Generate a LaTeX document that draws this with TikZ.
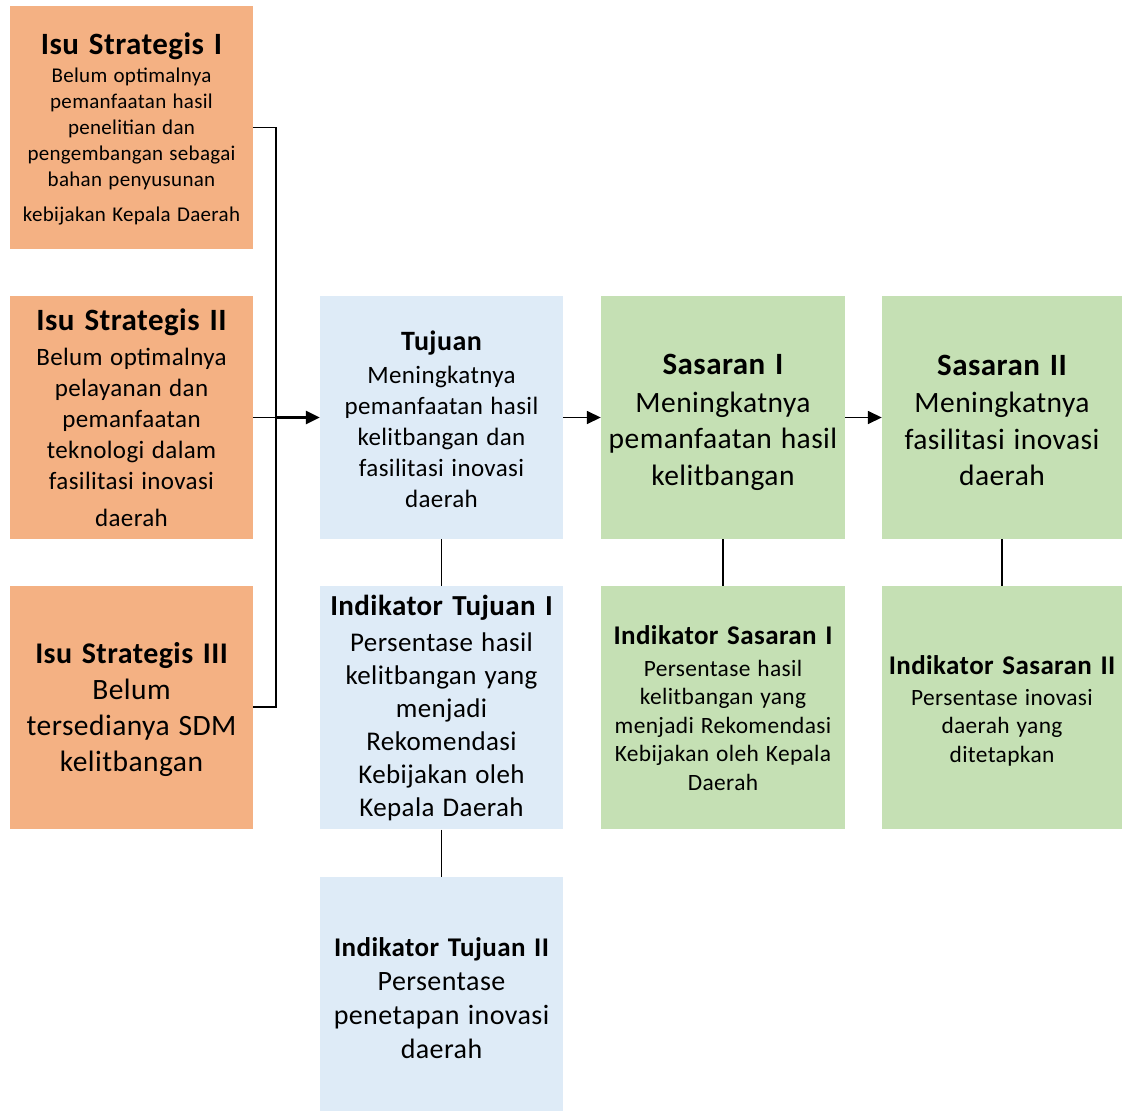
\documentclass[tikz,border=0pt]{standalone}
\usepackage{fontspec}
\setmainfont{Carlito}[LetterSpace=1.5]
\usetikzlibrary{arrows.meta,positioning}
\definecolor{isuOrange}{HTML}{F4B183}
\definecolor{tujuanBlue}{HTML}{DEEBF7}
\definecolor{sasaranGreen}{HTML}{C5E0B4}
\newcommand{\planfont}[2]{\fontsize{#1}{#2}\selectfont\spaceskip=0.3em\relax}
\newcommand{\planhead}{\bfseries\spaceskip=0.32em\relax}
\tikzset{
  every picture/.style={text=black},
  plan box/.style={minimum width=243, minimum height=243, inner sep=0pt,
    align=center, text width=238},
  isu box/.style={plan box, fill=isuOrange},
  tujuan box/.style={plan box, fill=tujuanBlue},
  sasaran box/.style={plan box, fill=sasaranGreen},
  plan link/.style={draw=black, line width=1.6pt},
  plan arrow/.style={plan link, -{Triangle[length=14pt,width=13pt]}}
}
\begin{document}
\begin{tikzpicture}[x=1pt,y=1pt]
  \useasboundingbox (0,0) rectangle (1122,-1111);
  % isu strategis
  \node[isu box] (isu1) at (131.5,-127.5)
    {\planfont{31}{37}{\planhead Isu Strategis I}\\[2pt]\planfont{21}{26}Belum optimalnya\\pemanfaatan hasil\\penelitian dan\\pengembangan sebagai\\bahan penyusunan\\[9pt]kebijakan Kepala Daerah\par\vspace{-2pt}};
  \node[isu box] (isu2) at (131.5,-417.5)
    {\planfont{31}{37}{\planhead Isu Strategis II}\\[4pt]\planfont{25}{31}Belum optimalnya\\pelayanan dan\\pemanfaatan\\teknologi dalam\\fasilitasi inovasi\\[6pt]daerah\par};
  \node[isu box] (isu3) at (131.5,-707)
    {\planfont{30}{36}{\planhead Isu Strategis III}\\\planfont{29.5}{36}Belum\\tersedianya SDM\\kelitbangan\par\vspace{-6pt}};
  % tujuan
  \node[tujuan box] (tujuan) at (441.5,-417.5)
    {\planfont{28}{34}{\planhead Tujuan}\\[2pt]\planfont{25}{31}Meningkatnya\\pemanfaatan hasil\\kelitbangan dan\\fasilitasi inovasi\\daerah\par\vspace{-4pt}};
  \node[tujuan box, below=47 of tujuan] (indtujuan1)
    {\planfont{29}{35}{\planhead Indikator Tujuan I}\\[3pt]\planfont{27}{33}Persentase hasil\\kelitbangan yang\\menjadi\\Rekomendasi\\Kebijakan oleh\\Kepala Daerah\par};
  \node[tujuan box, below=47 of indtujuan1, minimum height=235] (indtujuan2)
    {\planfont{27}{33}{\planhead Indikator Tujuan II}\\\planfont{28}{34}Persentase\\penetapan inovasi\\daerah\par\vspace{-8pt}};
  % sasaran
  \node[sasaran box, minimum width=244] (sasaran1) at (723,-417.5)
    {\planfont{31}{37}{\planhead Sasaran I}\\[1pt]\planfont{29.5}{36.5}Meningkatnya\\pemanfaatan hasil\\kelitbangan\par\vspace{-10pt}};
  \node[sasaran box, minimum width=244, below=47 of sasaran1] (indsasaran1)
    {\planfont{27}{33}{\planhead Indikator Sasaran I}\\[3pt]\planfont{23.4}{28.5}Persentase hasil\\kelitbangan yang\\menjadi Rekomendasi\\Kebijakan oleh Kepala\\Daerah\par};
  \node[sasaran box, minimum width=240] (sasaran2) at (1002,-417.5)
    {\planfont{31}{37}{\planhead Sasaran II}\\[1pt]\planfont{29.5}{36.5}Meningkatnya\\fasilitasi inovasi\\daerah\par\vspace{-6pt}};
  \node[sasaran box, minimum width=240, below=47 of sasaran2] (indsasaran2)
    {\planfont{27}{33}{\planhead Indikator Sasaran II}\\[2pt]\planfont{23.4}{28.5}Persentase inovasi\\daerah yang\\ditetapkan\par\vspace{-6pt}};
  % connectors
  \coordinate (bus) at (276,-417.5);
  \draw[plan link] (isu1.east) -- (isu1.east -| bus) -- (isu3.east -| bus) -- (isu3.east);
  \draw[plan link] (isu2.east) -- (bus);
  \draw[plan arrow, line width=2.6pt] (bus) -- (tujuan.west);
  \draw[plan arrow] (tujuan) -- (sasaran1);
  \draw[plan arrow] (sasaran1) -- (sasaran2);
  \draw[plan link] (tujuan) -- (indtujuan1);
  \draw[plan link] (indtujuan1) -- (indtujuan2);
  \draw[plan link] (sasaran1) -- (indsasaran1);
  \draw[plan link] (sasaran2) -- (indsasaran2);
\end{tikzpicture}
\end{document}
